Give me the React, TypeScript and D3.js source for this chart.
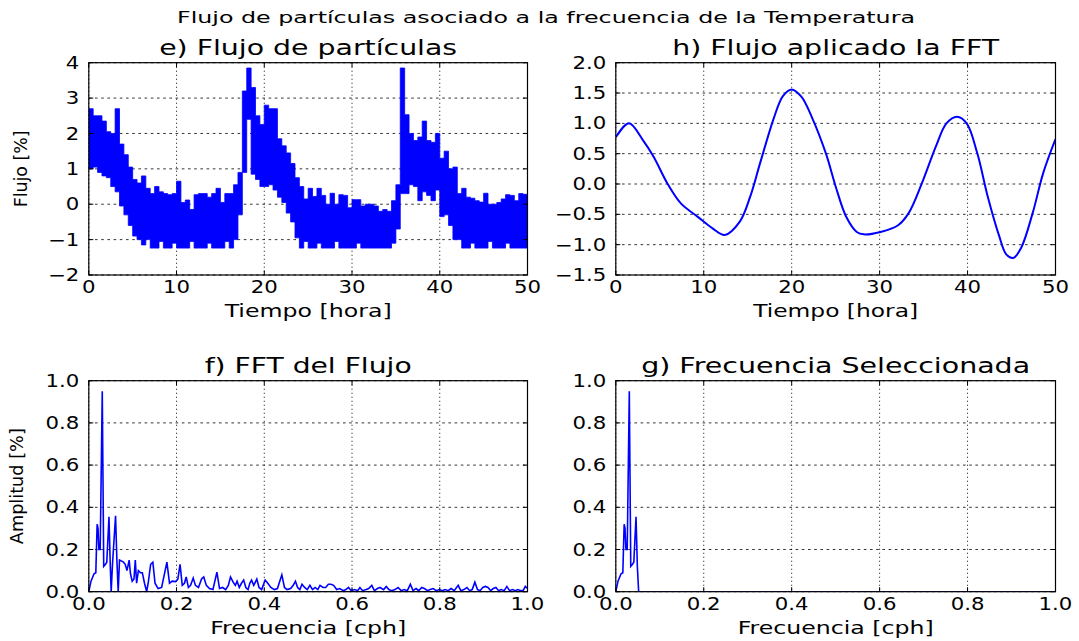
import React from "react";
import * as d3 from "d3";

const W = 1079;
const H = 641;
const BLUE = "#0000ff";
const FONT = "DejaVu Sans";

const suptitle = "Flujo de partículas asociado a la frecuencia de la Temperatura";

// e) particle flux record, half-hour bins: upper and lower extent of the trace
const fluxBinHours = 0.5;
const fluxHigh = [
  2.7, 2.5, 2.5, 2.35, 2.05, 2.0, 2.7, 1.7, 1.4, 1.05,
  0.7, 0.6, 0.8, 0.45, 0.3, 0.5, 0.35, 0.3, 0.27, 0.3,
  0.65, 0.05, 0.12, -0.15, 0.27, 0.3, 0.3, 0.2, 0.3, 0.45,
  0.05, 0.3, 0.3, 0.55, 0.9, 3.2, 3.85, 3.3, 2.5, 2.25,
  2.8, 2.7, 2.7, 1.85, 1.65, 1.45, 1.15, 0.75, 0.5, 0.15,
  0.45, 0.22, 0.45, 0.25, 0.0, 0.31, 0.0, 0.27, 0.25, -0.1,
  0.13, 0.13, -0.05, 0.0, 0.0, -0.05, -0.2, -0.15, -0.2, 0.1,
  0.55, 3.85, 2.53, 2.0, 1.8, 1.9, 2.35, 1.8, 1.75, 2.0,
  1.3, 1.5, 1.0, 1.05, 0.3, 0.45, 0.2, 0.17, 0.1, 0.06,
  0.31, 0.0, 0.0, 0.05, 0.15, 0.27, 0.25, 0.1, 0.3, 0.28,
  0.28,
];
const fluxLow = [
  1.0, 1.05, 0.9, 0.8, 0.75, 0.5, 0.35, -0.05, -0.3, -0.6,
  -0.9, -1.0, -1.15, -1.0, -1.24, -1.24, -1.05, -1.24, -1.24, -1.1,
  -1.24, -1.24, -1.24, -1.05, -1.24, -1.24, -1.24, -1.1, -1.24, -1.24,
  -1.24, -1.05, -1.24, -1.0, -0.3, 0.9, 2.4, 0.85, 0.7, 0.5,
  0.5, 0.55, 0.4, 0.2, 0.05, -0.25, -0.5, -0.95, -1.24, -1.05,
  -1.24, -1.24, -1.1, -1.24, -1.24, -1.24, -1.05, -1.24, -1.24, -1.24,
  -1.24, -1.1, -1.24, -1.24, -1.24, -1.24, -1.24, -1.24, -1.24, -1.1,
  -0.7, 0.3, 0.3, 0.55, 0.5, 0.1, 0.35, 0.25, 0.1, 0.4,
  -0.35, -0.3, -0.6, -1.0, -1.0, -1.24, -1.24, -1.1, -1.24, -1.24,
  -1.24, -1.05, -1.24, -1.24, -1.24, -1.1, -1.24, -1.24, -1.24, -1.24,
  -1.24,
];

// h) flux rebuilt from the selected FFT band
const filtHours = [
  0, 1.5, 3.1, 4.3, 5.9, 7.4, 9.4, 11.0, 12.4, 14.1,
  15.3, 16.4, 18.0, 19.0, 20.0, 21.1, 22.3, 23.9, 25.0, 26.2,
  27.4, 28.2, 30.1, 32.1, 33.3, 34.8, 36.4, 37.6, 38.8, 39.9,
  41.1, 42.3, 43.6, 44.4, 45.2, 46.1, 47.4, 48.6, 50.0,
];
const filtFlux = [
  0.77, 1.0, 0.72, 0.45, 0.0, -0.32, -0.55, -0.73, -0.84, -0.62,
  -0.2, 0.34, 1.1, 1.45, 1.56, 1.44, 1.1, 0.5, -0.04, -0.54,
  -0.79, -0.83, -0.79, -0.68, -0.48, 0.01, 0.62, 1.0, 1.11, 1.0,
  0.51, -0.21, -0.86, -1.16, -1.22, -1.05, -0.48, 0.18, 0.74,
];

// f) amplitude spectrum of the flux
const fftFreq = [
  0.0, 0.005, 0.012, 0.016, 0.019, 0.021, 0.023, 0.026, 0.0307, 0.034,
  0.038, 0.041, 0.046, 0.049, 0.051, 0.054, 0.061, 0.064, 0.067, 0.070,
  0.075, 0.079, 0.083, 0.087, 0.092, 0.095, 0.099, 0.103, 0.106, 0.109,
  0.113, 0.118, 0.122, 0.127, 0.132, 0.136, 0.141, 0.146, 0.151, 0.158,
  0.166, 0.172, 0.178, 0.184, 0.190, 0.198, 0.203, 0.208, 0.213, 0.218,
  0.222, 0.227, 0.232, 0.238, 0.243, 0.250, 0.257, 0.262, 0.268, 0.275,
  0.283, 0.292, 0.298, 0.305, 0.312, 0.318, 0.323, 0.329, 0.334, 0.338,
  0.343, 0.348, 0.353, 0.358, 0.363, 0.367, 0.371, 0.376, 0.383, 0.388,
  0.394, 0.402, 0.408, 0.415, 0.423, 0.430, 0.440, 0.446, 0.452, 0.460,
  0.466, 0.471, 0.476, 0.481, 0.486, 0.492, 0.498, 0.504, 0.510, 0.516,
  0.522, 0.527, 0.534, 0.540, 0.546, 0.552, 0.558, 0.565, 0.572, 0.580,
  0.586, 0.592, 0.598, 0.606, 0.613, 0.618, 0.624, 0.632, 0.638, 0.645,
  0.651, 0.658, 0.664, 0.672, 0.678, 0.684, 0.690, 0.698, 0.705, 0.712,
  0.719, 0.726, 0.733, 0.739, 0.746, 0.752, 0.759, 0.765, 0.772, 0.778,
  0.785, 0.792, 0.799, 0.806, 0.812, 0.819, 0.826, 0.833, 0.842, 0.848,
  0.855, 0.862, 0.868, 0.874, 0.880, 0.886, 0.892, 0.898, 0.904, 0.910,
  0.916, 0.922, 0.928, 0.934, 0.940, 0.947, 0.953, 0.959, 0.966, 0.972,
  0.978, 0.985, 0.990, 0.995, 1.0,
];
const fftAmp = [
  0.0, 0.05, 0.085, 0.09, 0.32, 0.30, 0.20, 0.20, 0.95, 0.12,
  0.13, 0.14, 0.355, 0.12, 0.0, 0.13, 0.36, 0.15, 0.0, 0.15,
  0.145, 0.14, 0.13, 0.10, 0.15, 0.085, 0.05, 0.06, 0.15, 0.04,
  0.10, 0.09, 0.09, 0.04, 0.0, 0.05, 0.13, 0.14, 0.04, 0.015,
  0.02, 0.08, 0.14, 0.04, 0.05, 0.048, 0.06, 0.13, 0.03, 0.04,
  0.07, 0.02, 0.03, 0.065, 0.03, 0.02, 0.06, 0.07, 0.03, 0.015,
  0.01, 0.093, 0.015, 0.02, 0.01, 0.03, 0.07, 0.045, 0.03, 0.05,
  0.02, 0.04, 0.055, 0.02, 0.01, 0.04, 0.055, 0.03, 0.06, 0.02,
  0.01, 0.055, 0.04, 0.02, 0.01, 0.015, 0.08, 0.02, 0.01, 0.015,
  0.03, 0.05, 0.02, 0.01, 0.035, 0.02, 0.01, 0.03, 0.01, 0.02,
  0.01, 0.03, 0.02, 0.02, 0.035, 0.035, 0.03, 0.01, 0.015, 0.005,
  0.01, 0.02, 0.005, 0.01, 0.005, 0.02, 0.005, 0.01, 0.015, 0.03,
  0.005, 0.015, 0.02, 0.01, 0.025, 0.01, 0.005, 0.01, 0.02, 0.005,
  0.01, 0.005, 0.035, 0.005, 0.015, 0.005, 0.02, 0.015, 0.005, 0.01,
  0.015, 0.005, 0.01, 0.005, 0.01, 0.005, 0.015, 0.005, 0.03, 0.005,
  0.01, 0.02, 0.005, 0.01, 0.045, 0.01, 0.005, 0.02, 0.025, 0.02,
  0.005, 0.015, 0.02, 0.005, 0.01, 0.005, 0.025, 0.005, 0.01, 0.005,
  0.01, 0.005, 0.005, 0.025, 0.015,
];
// the rest of the spectrum lies on the zero line
const fftZeroFreq = [0.0, 1.0];
const fftZeroAmp = [0.0, 0.0];

// g) band kept for the reconstruction
const selFreq = [
  0.0, 0.005, 0.012, 0.016, 0.019, 0.021, 0.023, 0.026, 0.0307, 0.034,
  0.038, 0.041, 0.046, 0.049, 0.052, 1.0,
];
const selAmp = [
  0.0, 0.05, 0.085, 0.09, 0.32, 0.30, 0.20, 0.20, 0.95, 0.12,
  0.13, 0.14, 0.355, 0.12, 0.0, 0.0,
];

const timeTicks = [0, 10, 20, 30, 40, 50];
const fluxTicks = [-2, -1, 0, 1, 2, 3, 4];
const filtTicks = [-1.5, -1.0, -0.5, 0.0, 0.5, 1.0, 1.5, 2.0];
const freqTicks = [0, 0.2, 0.4, 0.6, 0.8, 1.0];
const ampTicks = [0, 0.2, 0.4, 0.6, 0.8, 1.0];

const minus = (s: string) => s.replace("-", "\u2212");
const fmtInt = (d: number) => minus(String(d));
const fmt1 = (d: number) => minus(d.toFixed(1));

type Box = { x0: number; x1: number; y0: number; y1: number };

const TICK_SIZE = 17;
const TICK_SX = 1.25;

interface PanelProps {
  id: string;
  box: Box;
  xDomain: [number, number];
  yDomain: [number, number];
  xTicks: number[];
  yTicks: number[];
  xFmt: (d: number) => string;
  yFmt: (d: number) => string;
  title: string;
  titleLen: number;
  xLabel: string;
  xLabelLen: number;
  yLabel?: string;
  yLabelLen?: number;
  yLabelX?: number;
  render: (x: d3.ScaleLinear<number, number>, y: d3.ScaleLinear<number, number>) => React.ReactNode;
}

function Panel(p: PanelProps) {
  const { box } = p;
  const x = d3.scaleLinear().domain(p.xDomain).range([box.x0, box.x1]);
  const y = d3.scaleLinear().domain(p.yDomain).range([box.y1, box.y0]);
  const cx = (box.x0 + box.x1) / 2;
  const cy = (box.y0 + box.y1) / 2;
  const tk = 4.5;
  return (
    <g>
      <defs>
        <clipPath id={`clip-${p.id}`}>
          <rect x={box.x0} y={box.y0} width={box.x1 - box.x0} height={box.y1 - box.y0} />
        </clipPath>
      </defs>
      {/* grid */}
      <g stroke="#000" strokeWidth={0.8} fill="none">
        {p.xTicks.map((t) => (
          <line key={`gx${t}`} x1={x(t)} x2={x(t)} y1={box.y0} y2={box.y1} strokeDasharray="1.2,2.8" />
        ))}
        {p.yTicks.map((t) => (
          <line key={`gy${t}`} x1={box.x0} x2={box.x1} y1={y(t)} y2={y(t)} strokeDasharray="2.6,3.6" />
        ))}
      </g>
      <g clipPath={`url(#clip-${p.id})`}>{p.render(x, y)}</g>
      {/* inward ticks on all sides */}
      <g stroke="#000" strokeWidth={1}>
        {p.xTicks.map((t) => (
          <g key={`tx${t}`}>
            <line x1={x(t)} x2={x(t)} y1={box.y1} y2={box.y1 - tk} />
            <line x1={x(t)} x2={x(t)} y1={box.y0} y2={box.y0 + tk} />
          </g>
        ))}
        {p.yTicks.map((t) => (
          <g key={`ty${t}`}>
            <line x1={box.x0} x2={box.x0 + tk} y1={y(t)} y2={y(t)} />
            <line x1={box.x1} x2={box.x1 - tk} y1={y(t)} y2={y(t)} />
          </g>
        ))}
      </g>
      <rect
        x={box.x0}
        y={box.y0}
        width={box.x1 - box.x0}
        height={box.y1 - box.y0}
        fill="none"
        stroke="#000"
        strokeWidth={1.2}
      />
      {/* tick labels */}
      <g fontFamily={FONT} fontSize={TICK_SIZE} fill="#000">
        {p.xTicks.map((t) => (
          <text
            key={`lx${t}`}
            transform={`translate(${x(t)},${box.y1 + 18}) scale(${TICK_SX},1)`}
            textAnchor="middle"
          >
            {p.xFmt(t)}
          </text>
        ))}
        {p.yTicks.map((t) => (
          <text
            key={`ly${t}`}
            transform={`translate(${box.x0 - 9.5},${y(t)}) scale(${TICK_SX},1)`}
            textAnchor="end"
            dy="0.36em"
          >
            {p.yFmt(t)}
          </text>
        ))}
      </g>
      <text
        x={cx}
        y={box.y0 - 8}
        textAnchor="middle"
        fontFamily={FONT}
        fontSize={21}
        textLength={p.titleLen}
        lengthAdjust="spacingAndGlyphs"
      >
        {p.title}
      </text>
      <text
        x={cx}
        y={box.y1 + 42}
        textAnchor="middle"
        fontFamily={FONT}
        fontSize={17}
        textLength={p.xLabelLen}
        lengthAdjust="spacingAndGlyphs"
      >
        {p.xLabel}
      </text>
      {p.yLabel && (
        <text
          transform={`translate(${p.yLabelX},${cy}) rotate(-90)`}
          textAnchor="middle"
          fontFamily={FONT}
          fontSize={17}
          textLength={p.yLabelLen}
          lengthAdjust="spacingAndGlyphs"
        >
          {p.yLabel}
        </text>
      )}
    </g>
  );
}

const boxE: Box = { x0: 88.8, x1: 527.5, y0: 62.7, y1: 275 };
const boxH: Box = { x0: 615.8, x1: 1055.5, y0: 62.7, y1: 275 };
const boxF: Box = { x0: 88.8, x1: 527.5, y0: 380.7, y1: 591.7 };
const boxG: Box = { x0: 615.8, x1: 1055.5, y0: 380.7, y1: 591.7 };

function pairLine(
  x: d3.ScaleLinear<number, number>,
  y: d3.ScaleLinear<number, number>,
  xs: number[],
  ys: number[],
  curve: d3.CurveFactory = d3.curveLinear
) {
  return (
    d3
      .line<number>()
      .x((_, i) => x(xs[i]))
      .y((d) => y(d))
      .curve(curve)(ys) || ""
  );
}

// noisy flux trace drawn as the band it sweeps within each bin
function FluxTrace({ x, y }: { x: d3.ScaleLinear<number, number>; y: d3.ScaleLinear<number, number> }) {
  const band = d3
    .area<number>()
    .x((_, i) => x(i * fluxBinHours))
    .y0((_, i) => y(fluxLow[i]))
    .y1((d) => y(d))
    .curve(d3.curveStepAfter);
  return <path d={band(fluxHigh) || ""} fill={BLUE} stroke={BLUE} strokeWidth={0.8} />;
}

export default function App() {
  return (
    <svg
      width={W}
      height={H}
      viewBox={`0 0 ${W} ${H}`}
      style={{ position: "absolute", left: 0, top: 0, background: "#fff" }}
    >
      <rect x={0} y={0} width={W} height={H} fill="#fff" />
      <text
        x={546}
        y={23}
        textAnchor="middle"
        fontFamily={FONT}
        fontSize={15}
        textLength={738}
        lengthAdjust="spacingAndGlyphs"
      >
        {suptitle}
      </text>

      <Panel
        id="e"
        box={boxE}
        xDomain={[0, 50]}
        yDomain={[-2, 4]}
        xTicks={timeTicks}
        yTicks={fluxTicks}
        xFmt={fmtInt}
        yFmt={fmtInt}
        title="e) Flujo de partículas"
        titleLen={298}
        xLabel="Tiempo [hora]"
        xLabelLen={167}
        yLabel="Flujo [%]"
        yLabelLen={77}
        yLabelX={26.5}
        render={(x, y) => <FluxTrace x={x} y={y} />}
      />

      <Panel
        id="h"
        box={boxH}
        xDomain={[0, 50]}
        yDomain={[-1.5, 2.0]}
        xTicks={timeTicks}
        yTicks={filtTicks}
        xFmt={fmtInt}
        yFmt={fmt1}
        title="h) Flujo aplicado la FFT"
        titleLen={327}
        xLabel="Tiempo [hora]"
        xLabelLen={165}
        render={(x, y) => (
          <path
            d={pairLine(x, y, filtHours, filtFlux, d3.curveCatmullRom.alpha(0.5))}
            fill="none"
            stroke={BLUE}
            strokeWidth={2}
          />
        )}
      />

      <Panel
        id="f"
        box={boxF}
        xDomain={[0, 1]}
        yDomain={[0, 1]}
        xTicks={freqTicks}
        yTicks={ampTicks}
        xFmt={fmt1}
        yFmt={fmt1}
        title="f) FFT del Flujo"
        titleLen={207}
        xLabel="Frecuencia [cph]"
        xLabelLen={196}
        yLabel="Amplitud [%]"
        yLabelLen={116}
        yLabelX={23}
        render={(x, y) => (
          <g fill="none" stroke={BLUE} strokeWidth={1.6}>
            <path d={pairLine(x, y, fftZeroFreq, fftZeroAmp)} />
            <path d={pairLine(x, y, fftFreq, fftAmp)} />
          </g>
        )}
      />

      <Panel
        id="g"
        box={boxG}
        xDomain={[0, 1]}
        yDomain={[0, 1]}
        xTicks={freqTicks}
        yTicks={ampTicks}
        xFmt={fmt1}
        yFmt={fmt1}
        title="g) Frecuencia Seleccionada"
        titleLen={389}
        xLabel="Frecuencia [cph]"
        xLabelLen={196}
        render={(x, y) => (
          <path d={pairLine(x, y, selFreq, selAmp)} fill="none" stroke={BLUE} strokeWidth={1.6} />
        )}
      />
    </svg>
  );
}
